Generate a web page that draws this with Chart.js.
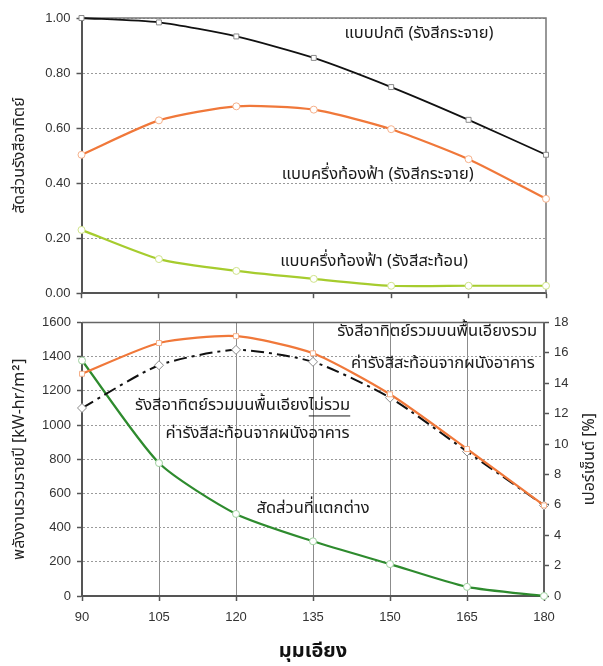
<!DOCTYPE html>
<html><head><meta charset="utf-8">
<script src="https://cdn.jsdelivr.net/npm/chart.js@4"></script>
<style>
html,body{margin:0;padding:0;background:#fff;}
#wrap{position:relative;width:603px;height:666px;overflow:hidden;}
#top{position:absolute;left:0;top:0;}
#bottom{position:absolute;left:0;top:300px;}
</style></head><body>
<div id="wrap">
<canvas id="top" width="603" height="307"></canvas>
<canvas id="bottom" width="603" height="366"></canvas>
</div>
<script>
// Tilt angles (degrees)
const angles = [90, 105, 120, 135, 150, 165, 180];
const tickLabelsRatio = [0, 0.2, 0.4, 0.6, 0.8, 1.0];

// Upper panel: solar radiation ratio
const ratioNormalDiffuse    = [1.000, 0.984, 0.933, 0.855, 0.749, 0.630, 0.503];
const ratioHalfSkyDiffuse   = [0.503, 0.628, 0.679, 0.667, 0.596, 0.487, 0.343];
const ratioHalfSkyReflected = [0.230, 0.124, 0.081, 0.052, 0.027, 0.027, 0.027];

// Lower panel: annual energy [kW-hr/m2] and difference [%]
const totalWithWall    = [1300, 1480, 1520, 1420, 1180, 860, 530];
const totalWithoutWall = [1100, 1350, 1440, 1370, 1160, 845, 530];
const differencePct    = [15.5, 8.75, 5.4, 3.6, 2.1, 0.6, 0];

const THAI = "'Noto Sans Thai','Tahoma','Loma','Garuda','Waree','Norasi','DejaVu Sans',sans-serif";
const LATIN = "'Liberation Sans', Arial, sans-serif";
const AXIS = '#555';
const GRID = '#9a9a9a';

const pts = (ys) => angles.map((a, i) => ({x: a, y: ys[i]}));

// Draws the plot frame, the free-text notes and an optional rotated right-hand title
const overlay = {
  id: 'overlay',
  beforeDatasetsDraw(chart, args, o) {
    const {ctx, chartArea: a} = chart;
    ctx.save();
    ctx.strokeStyle = o.frameColor;
    ctx.lineWidth = o.frameWidth;
    ctx.beginPath();
    ctx.moveTo(a.left, a.top);
    ctx.lineTo(a.right, a.top);
    ctx.lineTo(a.right, a.bottom);
    ctx.stroke();
    ctx.restore();
  },
  afterDatasetsDraw(chart, args, o) {
    const {ctx} = chart;
    const xs = chart.scales.x, ys = chart.scales.y;
    ctx.save();
    ctx.fillStyle = '#1a1a1a';
    ctx.strokeStyle = '#1a1a1a';
    ctx.font = o.noteFont;
    ctx.textBaseline = 'middle';
    ctx.textAlign = 'left';
    (o.notes || []).forEach(n => {
      const cx = xs.getPixelForValue(n.x), cy = ys.getPixelForValue(n.y);
      const full = n.text + (n.under || '');
      const w = ctx.measureText(full).width;
      const x0 = cx - w / 2;
      ctx.fillText(full, x0, cy);
      if (n.under) {
        const u0 = x0 + ctx.measureText(n.text).width;
        ctx.lineWidth = 1;
        ctx.beginPath();
        ctx.moveTo(u0, cy + 9);
        ctx.lineTo(x0 + w, cy + 9);
        ctx.stroke();
      }
    });
    if (o.rightTitle) {
      const a = chart.chartArea;
      ctx.font = o.titleFont;
      ctx.fillStyle = '#222';
      ctx.textAlign = 'center';
      ctx.translate(o.rightTitleX, (a.top + a.bottom) / 2);
      ctx.rotate(-Math.PI / 2);
      ctx.fillText(o.rightTitle, 0, 0);
    }
    ctx.restore();
  }
};

const lineSet = (data, color, width, pointStyle, pointBorder, extra) => Object.assign({
  data, borderColor: color, borderWidth: width, tension: 0.22,
  pointStyle, pointRadius: 3.5, pointBackgroundColor: '#fff',
  pointBorderColor: pointBorder, pointBorderWidth: 1, clip: false, fill: false
}, extra || {});

// ---- upper chart ----
new Chart(document.getElementById('top'), {
  type: 'line',
  data: {
    datasets: [
      lineSet(pts(ratioNormalDiffuse), '#111', 1.8, 'rect', '#8a8a8a'),
      lineSet(pts(ratioHalfSkyDiffuse), '#f0783a', 2.2, 'circle', '#f5b08a'),
      lineSet(pts(ratioHalfSkyReflected), '#a6cc2e', 2.2, 'circle', '#cfe38a')
    ]
  },
  options: {
    responsive: false, animation: false, devicePixelRatio: 1,
    layout: {padding: {top: 18, right: 57, bottom: 0, left: 0}},
    plugins: {
      legend: {display: false}, tooltip: {enabled: false},
      overlay: {
        frameColor: '#777', frameWidth: 1.5,
        noteFont: '16.5px ' + THAI,
        notes: [
          {text: 'แบบปกติ (รังสีกระจาย)', x: 155.4, y: 0.94},
          {text: 'แบบครึ่งท้องฟ้า (รังสีกระจาย)', x: 147.4, y: 0.427},
          {text: 'แบบครึ่งท้องฟ้า (รังสีสะท้อน)', x: 146.7, y: 0.110}
        ]
      }
    },
    scales: {
      x: {
        type: 'linear', min: angles[0], max: angles[angles.length - 1],
        ticks: {stepSize: 15, display: false},
        grid: {drawOnChartArea: false, drawTicks: true, tickLength: 5, tickColor: AXIS, tickWidth: 1.5},
        border: {color: AXIS, width: 2},
        afterFit: s => { s.height = 7; }
      },
      y: {
        min: tickLabelsRatio[0], max: tickLabelsRatio[tickLabelsRatio.length - 1],
        afterBuildTicks: s => { s.ticks = tickLabelsRatio.map(v => ({value: v})); },
        ticks: {callback: v => Number(v).toFixed(2), color: '#333', font: {family: LATIN, size: 13}, padding: 6},
        grid: {color: GRID, lineWidth: 1, tickColor: AXIS, tickLength: 5, tickWidth: 1.5},
        border: {color: AXIS, width: 2, dash: [2, 2]},
        title: {display: true, text: 'สัดส่วนรังสีอาทิตย์', color: '#222', font: {family: THAI, size: 16}, padding: {top: 11, bottom: 0}},
        afterFit: s => { s.width = 81.5; }
      }
    }
  },
  plugins: [overlay]
});

// ---- lower chart ----
new Chart(document.getElementById('bottom'), {
  type: 'line',
  data: {
    datasets: [
      lineSet(pts(totalWithWall), '#f0783a', 2.2, 'rect', '#f5b08a', {yAxisID: 'y'}),
      lineSet(pts(totalWithoutWall), '#111', 2, 'rectRot', '#8a8a8a', {yAxisID: 'y', borderDash: [13, 5, 3, 5], pointRadius: 4.5}),
      lineSet(pts(differencePct), '#2e8b2e', 2.2, 'circle', '#9fd09f', {yAxisID: 'y1'})
    ]
  },
  options: {
    responsive: false, animation: false, devicePixelRatio: 1,
    layout: {padding: {top: 22.5, right: 0, bottom: 0, left: 0}},
    plugins: {
      legend: {display: false}, tooltip: {enabled: false},
      overlay: {
        frameColor: '#666', frameWidth: 1.5,
        noteFont: '16.5px ' + THAI,
        titleFont: '16px ' + THAI,
        rightTitle: 'เปอร์เซ็นต์ [%]',
        rightTitleX: 591,
        notes: [
          {text: 'รังสีอาทิตย์รวมบนพื้นเอียงรวม', x: 159.2, y: 1540},
          {text: 'ค่ารังสีสะท้อนจากผนังอาคาร', x: 160.3, y: 1352},
          {text: 'รังสีอาทิตย์รวมบนพื้นเอียง', under: 'ไม่รวม', x: 121.3, y: 1106},
          {text: 'ค่ารังสีสะท้อนจากผนังอาคาร', x: 124.2, y: 942},
          {text: 'สัดส่วนที่แตกต่าง', x: 135, y: 503}
        ]
      }
    },
    scales: {
      x: {
        type: 'linear', min: angles[0], max: angles[angles.length - 1],
        ticks: {stepSize: 15, color: '#333', font: {family: LATIN, size: 13}, padding: 9},
        grid: {color: '#8c8c8c', lineWidth: 1, drawTicks: true, tickLength: 5, tickColor: AXIS, tickWidth: 1.5},
        border: {color: AXIS, width: 2},
        title: {display: true, text: 'มุมเอียง', color: '#111', font: {family: THAI, size: 20, weight: 'bold'}, padding: {top: 0, bottom: 1}},
        afterFit: s => { s.height = 70; }
      },
      y: {
        position: 'left', min: 0, max: 1600,
        ticks: {stepSize: 200, callback: v => String(v), color: '#333', font: {family: LATIN, size: 13}, padding: 6},
        grid: {color: GRID, lineWidth: 1, tickColor: AXIS, tickLength: 5, tickWidth: 1.5},
        border: {color: AXIS, width: 2, dash: [2, 2]},
        title: {display: true, text: 'พลังงานรวมรายปี [kW-hr/m²]', color: '#222', font: {family: THAI, size: 16}, padding: {top: 11, bottom: 0}},
        afterFit: s => { s.width = 82; }
      },
      y1: {
        position: 'right', min: 0, max: 18,
        ticks: {stepSize: 2, color: '#333', font: {family: LATIN, size: 13}, padding: 5},
        grid: {drawOnChartArea: false, tickColor: AXIS, tickLength: 5, tickWidth: 1.5},
        border: {color: AXIS, width: 2},
        afterFit: s => { s.width = 59; }
      }
    }
  },
  plugins: [overlay]
});
</script>
</body></html>
